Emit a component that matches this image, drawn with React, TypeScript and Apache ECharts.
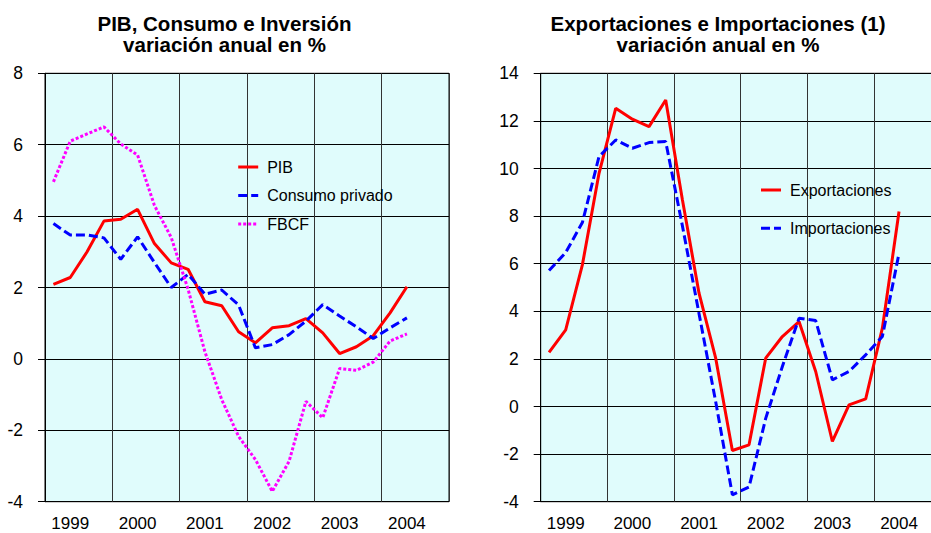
import React, { useEffect, useRef } from "react";
import * as echarts from "echarts";

// ---- data ----
const years = ["1999", "2000", "2001", "2002", "2003", "2004"];
const quarterNames = ["I", "II", "III", "IV"];
const quarters = years.flatMap((y) => quarterNames.map((q) => `${y} ${q}`));

const leftTitle = "PIB, Consumo e Inversión\nvariación anual en %";
const rightTitle = "Exportaciones e Importaciones (1)\nvariación anual en %";

const pib = [2.09, 2.28, 3.0, 3.86, 3.91, 4.19, 3.23, 2.69, 2.51, 1.6, 1.49, 0.76, 0.45, 0.87, 0.93, 1.13, 0.73, 0.15, 0.34, 0.65, 1.29, 2.02];
const consumo = [3.79, 3.47, 3.47, 3.39, 2.79, 3.42, 2.7, 2.0, 2.37, 1.81, 1.93, 1.51, 0.31, 0.4, 0.68, 1.06, 1.52, 1.2, 0.9, 0.57, 0.87, 1.15];
const fbcf = [4.96, 6.1, 6.3, 6.5, 6.02, 5.71, 4.3, 3.4, 1.95, 0.2, -1.14, -2.17, -2.82, -3.71, -2.87, -1.19, -1.65, -0.27, -0.32, -0.09, 0.5, 0.7];

const exportaciones = [2.27, 3.22, 5.95, 9.8, 12.53, 12.07, 11.76, 12.88, 8.7, 4.76, 2.03, -1.85, -1.61, 2.03, 2.94, 3.57, 1.47, -1.47, 0.07, 0.32, 3.29, 8.19];
const importaciones = [5.71, 6.47, 7.73, 10.5, 11.2, 10.85, 11.09, 11.13, 7.6, 3.9, 0.2, -3.71, -3.38, -0.5, 1.68, 3.71, 3.61, 1.12, 1.47, 2.17, 2.94, 6.44];

const leftNames = ["PIB", "Consumo privado", "FBCF"];
const rightNames = ["Exportaciones", "Importaciones"];

const FONT = '"Liberation Sans", Arial, sans-serif';
const BG = "#e0fcfc";

function xAxisDef(gridIndex: number) {
  return {
    type: "category",
    gridIndex,
    data: quarters,
    boundaryGap: true,
    axisLine: { show: true, lineStyle: { color: "#000", width: 1 } },
    axisTick: { show: false },
    axisLabel: {
      interval: (i: number) => i % 4 === 1,
      formatter: (v: string) => v.slice(0, 4),
      color: "#000",
      fontSize: 17,
      fontFamily: FONT,
      margin: 13.5,
    },
    splitLine: {
      show: true,
      interval: (i: number) => i % 4 === 0,
      lineStyle: { color: "#333", width: 1 },
    },
  };
}

function yAxisDef(gridIndex: number, min: number, max: number) {
  return {
    type: "value",
    gridIndex,
    min,
    max,
    interval: 2,
    axisLine: { show: true, lineStyle: { color: "#000", width: 1 } },
    axisTick: { show: true, inside: false, length: 7, lineStyle: { color: "#000" } },
    axisLabel: { color: "#000", fontSize: 17.5, fontFamily: FONT, margin: 22 },
    splitLine: { show: true, lineStyle: { color: "#000", width: 1 } },
  };
}

function line(name: string, data: number[], color: string, type: any, idx: number) {
  return {
    name,
    type: "line",
    xAxisIndex: idx,
    yAxisIndex: idx,
    data,
    symbol: "none",
    showSymbol: false,
    lineStyle: { color, width: 3, type },
    itemStyle: { color },
  };
}

const legendBase = {
  orient: "vertical",
  padding: 0,
  itemWidth: 20,
  itemHeight: 14,
  itemStyle: { opacity: 0 },
  lineStyle: { width: 3 },
  textStyle: { fontSize: 16, color: "#000", fontFamily: FONT, padding: [0, 0, 0, 4] },
};

const gridBase = {
  top: 73.3,
  height: 428.4,
  show: true,
  backgroundColor: BG,
  borderColor: "#000",
  borderWidth: 1,
  containLabel: false,
  outerBoundsMode: "none",
};

export default function App() {
  const ref = useRef<HTMLDivElement>(null);
  useEffect(() => {
    if (!ref.current) return;
    const chart = echarts.init(ref.current, null, { renderer: "svg" });
    chart.setOption({
      animation: false,
      backgroundColor: "#fff",
      textStyle: { fontFamily: FONT },
      graphic: [
        {
          type: "text",
          x: 224.5,
          y: 34,
          style: {
            text: leftTitle,
            fontSize: 20.5,
            fontWeight: "bold",
            fontFamily: FONT,
            align: "center",
            verticalAlign: "middle",
            lineHeight: 21,
            fill: "#000",
          },
        },
        {
          type: "text",
          x: 718,
          y: 34,
          style: {
            text: rightTitle,
            fontSize: 20.5,
            fontWeight: "bold",
            fontFamily: FONT,
            align: "center",
            verticalAlign: "middle",
            lineHeight: 21,
            fill: "#000",
          },
        },
      ],
      legend: [
        { ...legendBase, data: leftNames, left: 236.7, top: 159, itemGap: 12.5 },
        { ...legendBase, data: rightNames, left: 759.5, top: 182, itemGap: 22.3 },
      ],
      grid: [
        { ...gridBase, left: 45, width: 404 },
        { ...gridBase, left: 540.7, width: 400 },
      ],
      xAxis: [xAxisDef(0), xAxisDef(1)],
      yAxis: [yAxisDef(0, -4, 8), yAxisDef(1, -4, 14)],
      series: [
        line("PIB", pib, "#ff0000", "solid", 0),
        line("Consumo privado", consumo, "#0000ff", [9, 4], 0),
        line("FBCF", fbcf, "#ff00ff", [3, 2], 0),
        line("Exportaciones", exportaciones, "#ff0000", "solid", 1),
        line("Importaciones", importaciones, "#0000ff", [9, 4], 1),
      ],
    });
    return () => chart.dispose();
  }, []);
  return (
    <div
      ref={ref}
      style={{ position: "absolute", left: 0, top: 0, width: 931, height: 533 }}
    />
  );
}
